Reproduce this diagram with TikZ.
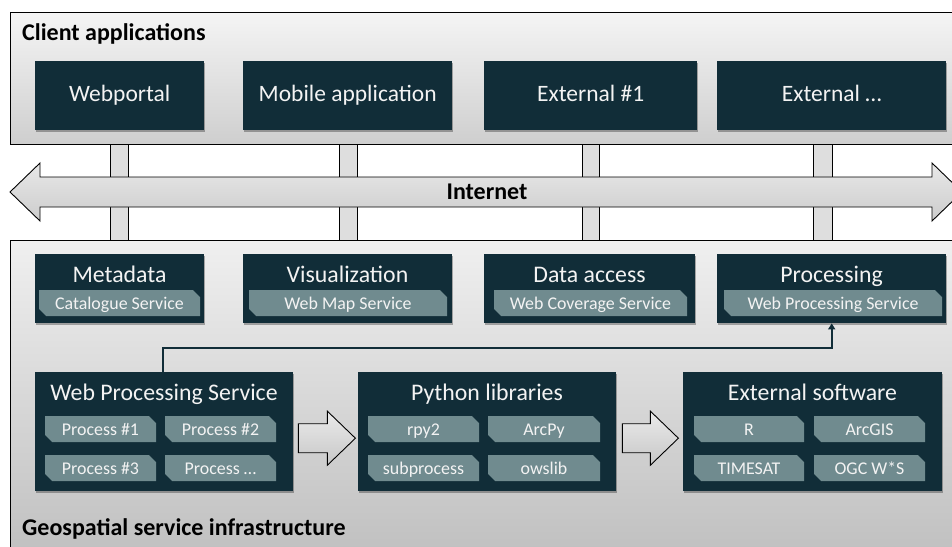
\documentclass[tikz,border=0pt]{standalone}
\usepackage{fontspec}
\setmainfont{Carlito}
\usetikzlibrary{shapes.misc,shadows,arrows.meta,calc}
\definecolor{dk}{RGB}{17,45,56}
\definecolor{pl}{RGB}{112,139,143}
\definecolor{tx}{RGB}{243,243,243}
\begin{document}
\begin{tikzpicture}[x=1pt,y=-1pt,
  panel/.style={draw=black, line width=0.9pt},
  dbox/.style={fill=dk, inner sep=0pt, anchor=north west, text=tx,
    font=\fontsize{23.5}{27}\selectfont, text height=16pt, text depth=3.6pt,
    drop shadow={shadow xshift=1.2pt, shadow yshift=-1.5pt, opacity=0.3, fill=black}},
  bigt/.style={text=tx, font=\fontsize{23.8}{27}\selectfont, inner sep=0pt, anchor=base},
  ptitle/.style={font=\bfseries\fontsize{24}{28}\selectfont, inner sep=0pt, anchor=base west},
  pill/.style={chamfered rectangle, chamfered rectangle corners={north east,south west},
    chamfered rectangle xsep=4pt, fill=pl, text=tx, font=\fontsize{17.9}{20}\selectfont,
    inner sep=0pt, minimum height=26pt, text height=14pt, text depth=2pt},
  bar/.style={draw=black, line width=0.9pt, fill=black!13},
  blk/.style={draw=black, line width=0.9pt, top color=black!8, bottom color=black!22},
  conn/.style={draw=dk, line width=2pt, -{Triangle[length=6pt,width=7pt]}}]
\useasboundingbox (0,0) rectangle (952,546);
\clip (0,0) rectangle (952,546);
\fill[white] (0,0) rectangle (952,546);

% panels
\draw[panel, top color=black!4, bottom color=black!19] (10,12) rectangle (962,144);
\draw[panel, top color=black!6, bottom color=black!25] (10,240) rectangle (962,560);
\node[ptitle] (clienttitle) at (22,40) {Client applications};
\node[ptitle] (geotitle) at (22,535) {Geospatial service infrastructure};

% vertical bars
\draw[bar] (110,144) rectangle (128,240);
\draw[bar] (339,144) rectangle (357,240);
\draw[bar] (582,144) rectangle (599,240);
\draw[bar] (813,144) rectangle (832,240);

% internet arrow
\draw[blk, top color=black!9, bottom color=black!20]
  (10,192) -- (40,163) -- (40,177) -- (932,177) -- (932,163) -- (962,192)
  -- (932,221) -- (932,207) -- (40,207) -- (40,221) -- cycle;
\node[font=\bfseries\fontsize{24}{28}\selectfont, inner sep=0pt] (inet) at (487,192) {Internet};

% client boxes
\node[dbox, minimum width=169pt, minimum height=69pt] (web) at (35,61) {Webportal};
\node[dbox, minimum width=209pt, minimum height=69pt] (mob) at (243,61) {Mobile application};
\node[dbox, minimum width=213pt, minimum height=69pt] (ext1) at (484,61) {External \#1};
\node[dbox, minimum width=229pt, minimum height=69pt] (ext2) at (717,61) {External \dots};

% service boxes
\node[dbox, minimum width=169pt, minimum height=69pt] (meta) at (35,254) {};
\node[bigt] (metat) at (119.5,282.5) {Metadata};
\node[pill, minimum width=161pt] (metap) at (119.5,303) {Catalogue Service};

\node[dbox, minimum width=209pt, minimum height=69pt] (vis) at (243,254) {};
\node[bigt] (vist) at (347.5,282.5) {Visualization};
\node[pill, minimum width=198pt] (visp) at (348,303) {Web Map Service};

\node[dbox, minimum width=211pt, minimum height=69pt] (data) at (484,254) {};
\node[bigt] (datat) at (589.5,282.5) {Data access};
\node[pill, minimum width=193pt] (datap) at (590.5,303) {Web Coverage Service};

\node[dbox, minimum width=229pt, minimum height=69pt] (proc) at (717,254) {};
\node[bigt] (proct) at (831.5,282.5) {Processing};
\node[pill, minimum width=218pt] (procp) at (833,303) {Web Processing Service};

% bottom boxes
\node[dbox, minimum width=258pt, minimum height=119pt] (wps) at (35,372) {};
\node[bigt] (wpst) at (164,400.5) {Web Processing Service};
\node[pill, minimum width=111pt] (p1) at (100.5,429) {Process \#1};
\node[pill, minimum width=111pt] (p2) at (220.5,429) {Process \#2};
\node[pill, minimum width=111pt] (p3) at (100.5,468) {Process \#3};
\node[pill, minimum width=111pt] (p4) at (220.5,468) {Process \dots};

\node[dbox, minimum width=258pt, minimum height=119pt] (py) at (358,372) {};
\node[bigt] (pyt) at (487,400.5) {Python libraries};
\node[pill, minimum width=111pt] (l1) at (423.5,429) {rpy2};
\node[pill, minimum width=112pt] (l2) at (544,429) {ArcPy};
\node[pill, minimum width=111pt] (l3) at (423.5,468) {subprocess};
\node[pill, minimum width=112pt] (l4) at (544,468) {owslib};

\node[dbox, minimum width=259pt, minimum height=119pt] (ext) at (683,372) {};
\node[bigt] (extt) at (812.5,400.5) {External software};
\node[pill, minimum width=110pt] (s1) at (749,429) {R};
\node[pill, minimum width=111pt] (s2) at (869.5,429) {ArcGIS};
\node[pill, minimum width=110pt] (s3) at (749,468) {TIMESAT};
\node[pill, minimum width=111pt] (s4) at (869.5,468) {OGC W*S};

% block arrows
\draw[blk, shift={(wps.east)}]
  (5,-8) -- (34,-8) -- (34,-20.5) -- (62,6.5) -- (34,33.5) -- (34,21) -- (5,21) -- cycle;
\draw[blk, shift={(py.east)}]
  (6,-8) -- (34,-8) -- (34,-20.5) -- (62,6.5) -- (34,33.5) -- (34,21) -- (6,21) -- cycle;

% connector WPS -> Processing
\draw[conn] ([xshift=128pt]wps.north west) -- ++(0,-24) -| (proc.south);
\end{tikzpicture}
\end{document}
